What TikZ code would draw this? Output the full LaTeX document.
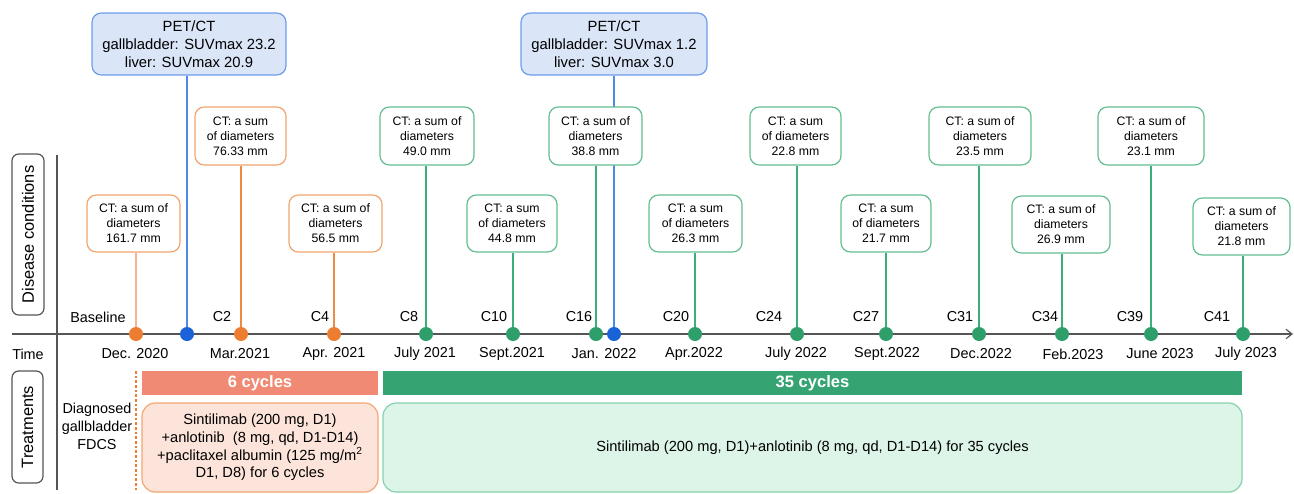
\documentclass[tikz,border=0pt]{standalone}
\usepackage{fontspec}
\setmainfont{Liberation Sans}
\usetikzlibrary{arrows.meta,backgrounds}
\definecolor{oDot}{HTML}{ED7D31}
\definecolor{oLine}{HTML}{EF8A45}
\definecolor{oLight}{HTML}{F5B48C}
\definecolor{oBord}{HTML}{F2A46E}
\definecolor{gDot}{HTML}{2E9E6B}
\definecolor{gLine}{HTML}{3DAE78}
\definecolor{gBord}{HTML}{62BE90}
\definecolor{bDot}{HTML}{1A62D8}
\definecolor{bLine}{HTML}{5089E8}
\definecolor{pFill}{HTML}{DAE5F7}
\definecolor{pBord}{HTML}{6D9CEB}
\definecolor{salmon}{HTML}{F08A74}
\definecolor{gBar}{HTML}{35A472}
\definecolor{t1Fill}{HTML}{FCE4DA}
\definecolor{t1Bord}{HTML}{F2A672}
\definecolor{t2Fill}{HTML}{DDF4E8}
\definecolor{t2Bord}{HTML}{86D1AB}
\definecolor{axisGray}{HTML}{555555}
\begin{document}
\begin{tikzpicture}[x=0.75pt,y=-0.75pt,
  sz/.style 2 args={minimum width=#1*0.75pt, minimum height=#2*0.75pt},
  ctbox/.style={draw, line width=0.9pt, rounded corners=7pt, align=center, inner sep=0pt, fill=white, font=\fontsize{9.2}{11.3}\selectfont},
  obox/.style={ctbox, draw=oBord},
  gbox/.style={ctbox, draw=gBord},
  petbox/.style={draw=pBord, fill=pFill, rounded corners=7pt, line width=0.9pt, align=center, inner sep=0pt, font=\fontsize{11.1}{13.4}\selectfont},
  dot/.style={circle, inner sep=0pt, minimum size=10.5pt},
  odot/.style={dot, fill=oDot},
  gdot/.style={dot, fill=gDot},
  bdot/.style={dot, fill=bDot},
  lbl/.style={font=\fontsize{10.8}{13}\selectfont, inner sep=0pt},
  sidebox/.style={draw=axisGray, line width=0.9pt, rounded corners=5pt, inner sep=0pt},
  conn/.style={line width=1pt},
  bar/.style={inner sep=0pt, text=white, font=\bfseries\fontsize{12.4}{14}\selectfont},
  treat/.style={rounded corners=10pt, line width=0.9pt, align=center, inner sep=0pt, font=\fontsize{11}{13.2}\selectfont}
]
\useasboundingbox (0,0) rectangle (1294,493);

% side labels
\node[sidebox, sz={32}{161}] (dc) at (28,234.5) {};
\node[lbl, rotate=90, font=\fontsize{12.3}{14}\selectfont] (dct) at (dc.center) {Disease conditions};
\node[sidebox, sz={31}{112}] (tr) at (27.5,427) {};
\node[lbl, rotate=90, font=\fontsize{12.3}{14}\selectfont] (trt) at (tr.center) {Treatments};
\node[lbl] (time) at (28,354) {Time};

% separators and axis
\coordinate (v0) at (57,155);
\coordinate (v1) at (57,490);
\draw[axisGray, line width=0.8pt] (v0) -- (v1);
\coordinate (ax0) at (12,334);
\coordinate (ax1) at (1293,334);
\draw[axisGray, line width=0.9pt, -{Straight Barb[length=4.5pt,width=7pt]}] (ax0) -- (ax1);

% dots
\node[odot] (d1) at (136,334) {};
\node[bdot] (bd1) at (187,334) {};
\node[odot] (d2) at (241,334) {};
\node[odot] (d3) at (334,334) {};
\node[gdot] (d4) at (426,334) {};
\node[gdot] (d5) at (513,334) {};
\node[gdot] (d6) at (596,334) {};
\node[bdot] (bd2) at (614,334) {};
\node[gdot] (d7) at (695,334) {};
\node[gdot] (d8) at (797,334) {};
\node[gdot] (d9) at (886,334) {};
\node[gdot] (d10) at (979,334) {};
\node[gdot] (d11) at (1062,334) {};
\node[gdot] (d12) at (1151,334) {};
\node[gdot] (d13) at (1243,334) {};

% cycle labels
\node[lbl] (l0) at (98,317) {Baseline};
\node[lbl] (l2) at (222,317) {C2};
\node[lbl] (l3) at (320,317) {C4};
\node[lbl] (l4) at (409,317) {C8};
\node[lbl] (l5) at (494,317) {C10};
\node[lbl] (l6) at (579,317) {C16};
\node[lbl] (l7) at (676,317) {C20};
\node[lbl] (l8) at (769,317) {C24};
\node[lbl] (l9) at (866,317) {C27};
\node[lbl] (l10) at (960,317) {C31};
\node[lbl] (l11) at (1045,317) {C34};
\node[lbl] (l12) at (1130,317) {C39};
\node[lbl] (l13) at (1217,317) {C41};

% dates
\node[lbl] (t1) at (135,354) {Dec. 2020};
\node[lbl] (t2) at (240,354) {Mar.2021};
\node[lbl] (t3) at (334,354) {Apr. 2021};
\node[lbl] (t4) at (425,354) {July 2021};
\node[lbl] (t5) at (512,354) {Sept.2021};
\node[lbl] (t6) at (604,354) {Jan. 2022};
\node[lbl] (t7) at (694,354) {Apr.2022};
\node[lbl] (t8) at (796,354) {July 2022};
\node[lbl] (t9) at (887,354) {Sept.2022};
\node[lbl] (t10) at (981,354) {Dec.2022};
\node[lbl] (t11) at (1073,354) {Feb.2023};
\node[lbl] (t12) at (1160,354) {June 2023};
\node[lbl] (t13) at (1246,354) {July 2023};

% PET/CT boxes
\node[petbox, sz={194}{62}] (p1) at (189,44) {PET/CT\\gallbladder: SUVmax 23.2\\liver: SUVmax 20.9};
\node[petbox, sz={186}{62}] (p2) at (614,44) {PET/CT\\gallbladder: SUVmax 1.2\\liver: SUVmax 3.0};

% CT boxes
\node[obox, sz={93}{57}] (b1) at (133.5,223.5) {CT: a sum of\\diameters\\161.7 mm};
\node[obox, sz={91}{58}] (b2) at (240.5,136) {CT: a sum\\of diameters\\76.33 mm};
\node[obox, sz={93}{57}] (b3) at (335.5,223.5) {CT: a sum of\\diameters\\56.5 mm};
\node[gbox, sz={94}{58}] (b4) at (427,136) {CT: a sum of\\diameters\\49.0 mm};
\node[gbox, sz={90}{57}] (b5) at (512,223.5) {CT: a sum\\of diameters\\44.8 mm};
\node[gbox, sz={93}{58}] (b6) at (595.5,136) {CT: a sum of\\diameters\\38.8 mm};
\node[gbox, sz={93}{57}] (b7) at (695.5,223.5) {CT: a sum\\of diameters\\26.3 mm};
\node[gbox, sz={91}{58}] (b8) at (795.5,136) {CT: a sum\\of diameters\\22.8 mm};
\node[gbox, sz={90}{57}] (b9) at (886,223.5) {CT: a sum\\of diameters\\21.7 mm};
\node[gbox, sz={102}{58}] (b10) at (980,136) {CT: a sum of\\diameters\\23.5 mm};
\node[gbox, sz={98}{57}] (b11) at (1061,224.5) {CT: a sum of\\diameters\\26.9 mm};
\node[gbox, sz={106}{58}] (b12) at (1151,136) {CT: a sum of\\diameters\\23.1 mm};
\node[gbox, sz={97}{57}] (b13) at (1241.5,226.5) {CT: a sum of\\diameters\\21.8 mm};

% connectors (behind the boxes)
\begin{pgfonlayer}{background}
\draw[conn, bLine] (p1.south -| bd1) -- (bd1);
\draw[conn, bLine] (p2.south -| bd2) -- (bd2);
\draw[conn, oLight] (b1.south -| d1) -- (d1);
\draw[conn, oLine] (b2.south -| d2) -- (d2);
\draw[conn, oLine] (b3.south -| d3) -- (d3);
\draw[conn, gLine] (b4.south -| d4) -- (d4);
\draw[conn, gLine] (b5.south -| d5) -- (d5);
\draw[conn, gLine] (b6.south -| d6) -- (d6);
\draw[conn, gLine] (b7.south -| d7) -- (d7);
\draw[conn, gLine] (b8.south -| d8) -- (d8);
\draw[conn, gLine] (b9.south -| d9) -- (d9);
\draw[conn, gLine] (b10.south -| d10) -- (d10);
\draw[conn, gLine] (b11.south -| d11) -- (d11);
\draw[conn, gLine] (b12.south -| d12) -- (d12);
\draw[conn, gLine] (b13.south -| d13) -- (d13);
\end{pgfonlayer}

% treatments
\coordinate (ds0) at (136,371);
\coordinate (ds1) at (136,490);
\draw[oDot, line width=0.9pt, dash pattern=on 2pt off 1.5pt] (ds0) -- (ds1);
\node[lbl, align=center, font=\fontsize{10.8}{13.5}\selectfont] (diag) at (97,426) {Diagnosed\\gallbladder\\FDCS};
\node[bar, fill=salmon, sz={236}{24}] (bar1) at (260,383) {6 cycles};
\node[bar, fill=gBar, sz={859}{24}] (bar2) at (812.5,383) {35 cycles};
\node[treat, draw=t1Bord, fill=t1Fill, sz={236}{89}] (tx1) at (260,447.5) {Sintilimab (200 mg, D1)\\+anlotinib~ (8 mg, qd, D1-D14)\\+paclitaxel albumin (125 mg/m\textsuperscript{2}\\D1, D8) for 6 cycles};
\node[treat, draw=t2Bord, fill=t2Fill, sz={859}{89}] (tx2) at (812.5,447.5) {Sintilimab (200 mg, D1)+anlotinib (8 mg, qd, D1-D14) for 35 cycles};
\end{tikzpicture}
\end{document}
